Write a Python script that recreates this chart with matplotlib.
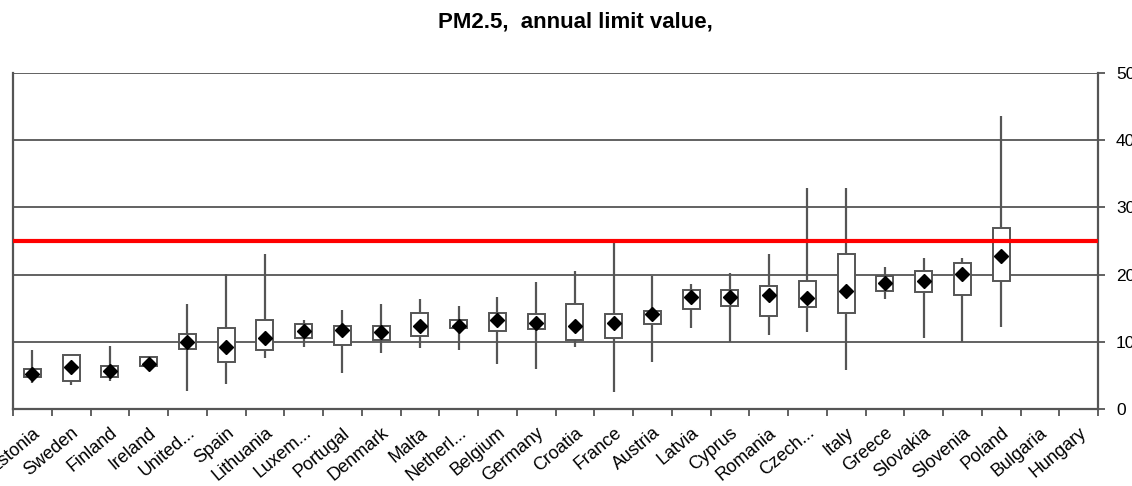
import matplotlib
matplotlib.use("Agg")
import matplotlib.pyplot as plt
import numpy as np

plt.rcParams["font.family"] = ["Liberation Sans", "DejaVu Sans"]

countries = ["Estonia", "Sweden", "Finland", "Ireland", "United...", "Spain",
             "Lithuania", "Luxem...", "Portugal", "Denmark", "Malta", "Netherl...",
             "Belgium", "Germany", "Croatia", "France", "Austria", "Latvia",
             "Cyprus", "Romania", "Czech...", "Italy", "Greece", "Slovakia",
             "Slovenia", "Poland", "Bulgaria", "Hungary"]

nan = np.nan
# station statistics per country (µg/m³)
whisker_low = [3.8, 3.6, 4.1, 5.8, 2.7, 3.7, 7.6, 9.2, 5.4, 8.4, 9.1, 8.8,
               6.7, 5.9, 9.2, 2.5, 7.0, 12.1, 9.9, 11.0, 11.5, 5.8, 16.3, 10.5,
               9.9, 12.2, nan, nan]
box_low = [4.7, 4.1, 4.8, 6.4, 8.9, 7.0, 8.8, 10.6, 9.6, 10.3, 10.8, 12.0,
           11.6, 11.9, 10.2, 10.6, 12.6, 14.9, 15.3, 13.8, 15.2, 14.3, 17.6, 17.4,
           16.9, 19.1, nan, nan]
mean_val = [5.2, 6.2, 5.7, 6.7, 10.0, 9.3, 10.5, 11.6, 11.8, 11.4, 12.4, 12.4,
            13.3, 12.8, 12.4, 12.8, 14.2, 16.6, 16.7, 17.0, 16.5, 17.6, 18.7, 19.0,
            20.1, 22.8, nan, nan]
box_high = [5.95, 8.0, 6.4, 7.7, 11.2, 12.0, 13.3, 12.6, 12.4, 12.4, 14.3, 13.2,
            14.3, 14.1, 15.7, 14.1, 14.6, 17.7, 17.7, 18.3, 19.1, 23.1, 19.8, 20.5,
            21.7, 27.0, nan, nan]
whisker_high = [8.8, 8.0, 9.4, 7.9, 15.6, 20.1, 23.0, 13.2, 14.8, 15.6, 16.4, 15.4,
                16.6, 18.9, 20.6, 25.0, 19.8, 18.6, 20.2, 23.0, 32.9, 32.9, 21.1, 22.5,
                22.4, 43.6, nan, nan]
limit_value = 25
y_ticks = [0, 10, 20, 30, 40, 50]

fig = plt.figure(figsize=(11.32, 4.86), dpi=100)
ax = fig.add_axes([0.0115, 0.1584, 0.9585, 0.6914])

x = np.arange(len(countries))
lo = np.array(box_low)
hi = np.array(box_high)

for y in y_ticks[1:]:
    ax.axhline(y, color="#555555", lw=1.3, zorder=1)

ax.vlines(x, whisker_low, whisker_high, color="#555555", lw=1.6, zorder=2)
ax.bar(x, hi - lo, bottom=lo, width=0.44, facecolor="white",
       edgecolor="#555555", linewidth=1.4, zorder=3)
ax.plot(x, mean_val, linestyle="none", marker="D", markersize=7.5,
        color="black", zorder=4)
ax.axhline(limit_value, color="#ff0000", lw=3, zorder=5)

ax.set_xlim(-0.5, len(countries) - 0.5)
ax.set_ylim(0, 50)

ax.yaxis.tick_right()
ax.set_yticks(y_ticks)
ax.tick_params(axis="y", direction="out", length=5, width=1.3,
               color="#555555", labelsize=12.5, pad=8)

ax.set_xticks(np.arange(len(countries) + 1) - 0.5, minor=False)
ax.set_xticklabels([])
ax.tick_params(axis="x", which="major", direction="out", length=5, width=1.3,
               color="#555555")
ax.set_xticks(x, minor=True)
ax.set_xticklabels(countries, minor=True, rotation=40, ha="right",
                   rotation_mode="anchor", fontsize=13)
ax.tick_params(axis="x", which="minor", length=0, pad=11)

for side in ["left", "right", "bottom"]:
    ax.spines[side].set_color("#555555")
    ax.spines[side].set_linewidth(1.6)
ax.spines["top"].set_visible(False)

fig.text(0.508, 0.955, "PM2.5,  annual limit value,", ha="center", va="center",
         fontsize=16, fontweight="bold")

fig.savefig("out.png", dpi=100)
